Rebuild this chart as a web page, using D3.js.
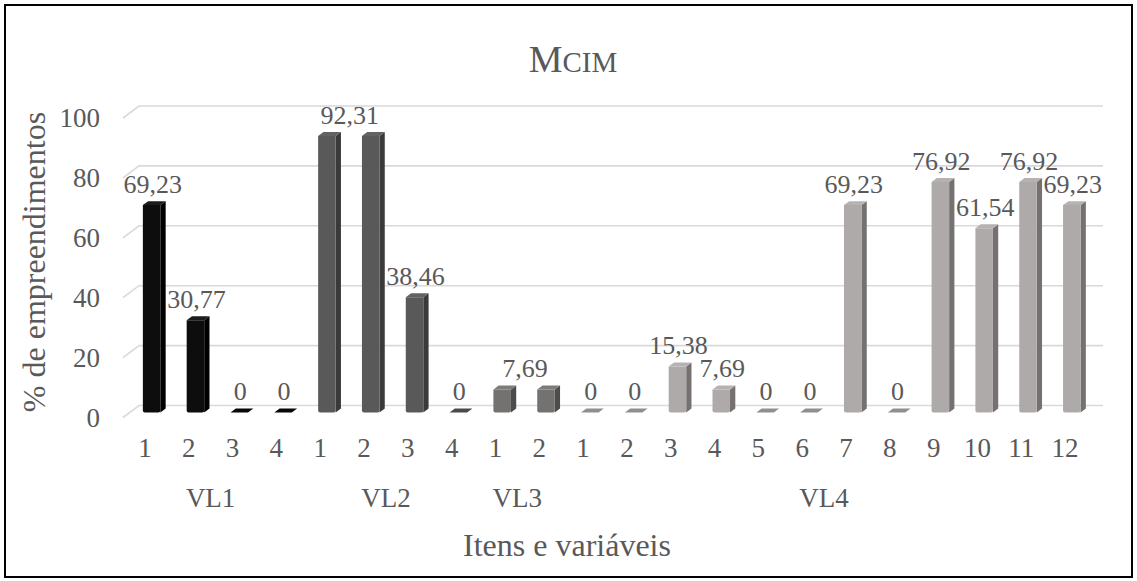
<!DOCTYPE html>
<html>
<head>
<meta charset="utf-8">
<script src="https://cdn.jsdelivr.net/npm/d3@7"></script>
<style>
  html, body { margin: 0; padding: 0; background: #ffffff; }
  svg { display: block; }
  svg text { font-family: "Liberation Serif", Tinos, "Times New Roman", Times, serif !important; fill: #595959; }
</style>
</head>
<body>
<svg id="chart" width="1137" height="581"></svg>
<script>
// ---- data ----
const groups = ["VL1", "VL2", "VL3", "VL4"];
const groupItems = [
  ["1", "2", "3", "4"],
  ["1", "2", "3", "4"],
  ["1", "2"],
  ["1", "2", "3", "4", "5", "6", "7", "8", "9", "10", "11", "12"]
];
const groupValues = [
  [69.23, 30.77, 0, 0],
  [92.31, 92.31, 38.46, 0],
  [7.69, 7.69],
  [0, 0, 15.38, 7.69, 0, 0, 69.23, 0, 76.92, 61.54, 76.92, 69.23]
];
// pairs of neighbouring bars (group, first item, second item) that carry one common value label
const sharedLabels = [["VL2", "1", "2"], ["VL3", "1", "2"]];
const yTicks = [0, 20, 40, 60, 80, 100];
const title = "Mcim";
const yTitle = "% de empreendimentos";
const xTitle = "Itens e variáveis";

// colour of each group: front, side and top faces
const groupColors = {
  VL1: { front: "#0d0d0d", side: "#000000", top: "#1c1c1c" },
  VL2: { front: "#595959", side: "#3a3a3a", top: "#626262" },
  VL3: { front: "#747171", side: "#4e4b4b", top: "#7d7a7a" },
  VL4: { front: "#aeaaaa", side: "#767171", top: "#b6b2b2" }
};

// flatten into one row per bar
const bars = [];
groups.forEach((g, gi) => {
  groupItems[gi].forEach((item, ii) => {
    bars.push({ key: g + "-" + item, group: g, item: item, value: groupValues[gi][ii] });
  });
});

const svg = d3.select("#chart");
const fmt = v => d3.format(".2~f")(v).replace(".", ",");

// ---- 3-D oblique geometry ----
// back wall of the plot; floor depth runs toward the viewer by (-depthX, +depthY)
const depthX = 16, depthY = 12;
const barFrontT = 0.58, barBackT = 0.25;   // bar depth slice, 0 = back wall, 1 = front edge

const x = d3.scaleBand()
  .domain(bars.map(d => d.key))
  .range([139, 1103])
  .paddingInner(0.6)
  .paddingOuter(0.3);

const y = d3.scaleLinear().domain([0, 100]).range([405.5, 106]);

const px = (xb, t) => xb - depthX * t;
const py = (v, t) => y(v) + depthY * t;

// ---- gridlines (back wall + left floor edge) ----
const x0 = x.range()[0], x1 = x.range()[1];
svg.append("g").selectAll("path")
  .data(yTicks)
  .join("path")
  .attr("d", v => `M${px(x0, 1)},${py(v, 1)}L${x0},${y(v)}L${x1},${y(v)}`)
  .attr("fill", "none")
  .attr("stroke", "#d9d9d9")
  .attr("stroke-width", 1.6);

// ---- value axis, drawn along the front-left edge ----
const yFront = y.copy().range(y.range().map(r => r + depthY));
const yAxis = svg.append("g")
  .attr("transform", `translate(${px(x0, 1)},0)`)
  .call(d3.axisLeft(yFront).tickValues(yTicks).tickSize(0).tickPadding(23).tickFormat(d3.format("d")));
yAxis.select(".domain").remove();
yAxis.attr("font-family", null).attr("font-size", 27);
yAxis.selectAll("text").attr("fill", "#595959");

// ---- item axis along the front edge of the floor ----
const xFront = x.copy().range(x.range().map(r => r - depthX));
const xAxis = svg.append("g")
  .attr("transform", `translate(0,${py(0, 1)})`)
  .call(d3.axisBottom(xFront).tickSize(0).tickPadding(20).tickFormat(k => k.split("-")[1]));
xAxis.select(".domain").remove();
xAxis.attr("font-family", null).attr("font-size", 27);
xAxis.selectAll("text").attr("fill", "#595959");

// group names centred under their items
svg.append("g").selectAll("text")
  .data(groups)
  .join("text")
  .attr("x", (g, gi) => {
    const ks = groupItems[gi].map(it => g + "-" + it);
    return (xFront(ks[0]) + xFront(ks[ks.length - 1]) + xFront.bandwidth()) / 2;
  })
  .attr("y", 507)
  .attr("text-anchor", "middle")
  .attr("font-size", 27)
  .text(g => g);

// ---- bars: front, side and top faces ----
const bw = x.bandwidth();
const barG = svg.append("g").selectAll("g")
  .data(bars)
  .join("g");

barG.each(function (d) {
  const g = d3.select(this);
  const c = groupColors[d.group];
  const xb = x(d.key);
  const fL = px(xb, barFrontT), fR = px(xb + bw, barFrontT);
  const bL = px(xb, barBackT), bR = px(xb + bw, barBackT);
  const fTop = py(d.value, barFrontT), fBot = py(0, barFrontT);
  const bTop = py(d.value, barBackT), bBot = py(0, barBackT);
  if (d.value > 0) {
    g.append("path")
      .attr("d", `M${fR},${fTop}L${bR},${bTop}L${bR},${bBot}L${fR},${fBot}Z`)
      .attr("fill", c.side);
    g.append("path")
      .attr("d", `M${fL},${fTop}L${fR},${fTop}L${fR},${fBot - 2}Q${fR},${fBot} ${fR - 2},${fBot}L${fL + 2},${fBot}Q${fL},${fBot} ${fL},${fBot - 2}Z`)
      .attr("fill", c.front);
  }
  g.append("path")
    .attr("d", `M${fL},${fTop}L${bL},${bTop}L${bR},${bTop}L${fR},${fTop}Z`)
    .attr("fill", d.value > 0 ? c.top : d3.interpolateRgb(c.front, c.side)(0.5));
});

// ---- value labels ----
const sharedSecond = new Set(sharedLabels.map(s => s[0] + "-" + s[2]));
const partnerOf = new Map(sharedLabels.map(s => [s[0] + "-" + s[1], s[0] + "-" + s[2]]));
const labelX = key => px(x(key) + bw / 2, barFrontT) + 1;

svg.append("g").selectAll("text")
  .data(bars.filter(d => !sharedSecond.has(d.key)))
  .join("text")
  .attr("x", d => partnerOf.has(d.key) ? (labelX(d.key) + labelX(partnerOf.get(d.key))) / 2 : labelX(d.key))
  .attr("y", d => py(d.value, barFrontT) - 12)
  .attr("text-anchor", "middle")
  .attr("font-size", 26)
  .text(d => fmt(d.value));

// ---- titles ----
const t = svg.append("text")
  .attr("x", 573)
  .attr("y", 72)
  .attr("text-anchor", "middle")
  .attr("font-size", 38);
t.append("tspan").text(title[0].toUpperCase());
t.append("tspan").attr("font-size", 29).text(title.slice(1).toUpperCase());

svg.append("text")
  .attr("transform", "translate(45,262) rotate(-90)")
  .attr("text-anchor", "middle")
  .attr("font-size", 32)
  .text(yTitle);

svg.append("text")
  .attr("x", 567)
  .attr("y", 556)
  .attr("text-anchor", "middle")
  .attr("font-size", 32)
  .text(xTitle);

// ---- chart frame ----
svg.append("rect")
  .attr("x", 5).attr("y", 5)
  .attr("width", 1127).attr("height", 572)
  .attr("fill", "none")
  .attr("stroke", "#000")
  .attr("stroke-width", 2);
</script>
</body>
</html>
